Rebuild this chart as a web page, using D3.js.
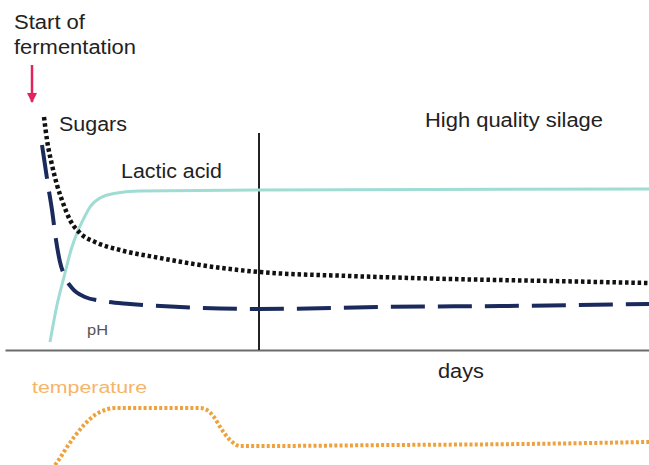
<!DOCTYPE html>
<html><head><meta charset="utf-8">
<script src="https://cdn.jsdelivr.net/npm/d3@7/dist/d3.min.js"></script>
<style>html,body{margin:0;padding:0;background:#fff;}svg{display:block;font-family:"Liberation Sans",Arial,sans-serif;}</style>
</head><body>
<script>
// time in relative units (no ticks on the axis), levels in relative units 0-100
const sugarsT = [0.8,1.4,2.4,3.4,4.6,6,8,11,16,24,32,43.8,62,82,102,121.8];
const sugarsV = [93.2,84,74,66,58.8,52,46.8,43.2,40,36.8,34,31.2,29.6,28.4,27.6,26.8];
const phT = [0.4,1,1.6,2.4,3.2,4,5,6.4,9,12.4,18,28,43.8,68,92,121.8];
const phV = [82,74,66,56,44,35.2,29.2,24.8,21.2,19.6,18.4,17.2,16.4,17.2,17.6,18.4];
const lacticT = [2,3.4,5,6.2,7.4,8.8,10,12,15.4,20,43.8,121.8];
const lacticV = [3.2,18,30.8,40,46.8,52.8,57.2,60.8,62.8,63.6,64,64.4];
const tempT = [3,4,5.4,7,9,11,13,15,32,33.4,34.8,36.4,38,40,44,72,96,121.8];
const tempV = [3.3,8,15.3,22.7,30.7,36.7,40,41.3,41.3,40,35.3,26.7,20,16,16,16.7,17.3,18.7];
const phaseBoundaryT = 43.8;
const phaseBoundaryTop = 86.8;

const W = 649, H = 465;
const svg = d3.select("body").append("svg").attr("width", W).attr("height", H);

const x = d3.scaleLinear().domain([-7, 122]).range([5, 650]);
const y = d3.scaleLinear().domain([0, 100]).range([350, 100]);
const yT = d3.scaleLinear().domain([0, 50]).range([470, 395]);

const zip = (a, b) => a.map((t, i) => [t, b[i]]);
const lineTop = d3.line().x(d => x(d[0])).y(d => y(d[1])).curve(d3.curveMonotoneX);
const lineTemp = d3.line().x(d => x(d[0])).y(d => yT(d[1])).curve(d3.curveMonotoneX);

// x axis (no ticks)
const ax = svg.append("g").attr("transform", `translate(0,${y(0)})`)
  .call(d3.axisBottom(x).tickValues([]).tickSizeOuter(0));
ax.select(".domain").attr("stroke", "#6b6b6b").attr("stroke-width", 2);

// phase boundary
svg.append("line")
  .attr("x1", x(phaseBoundaryT)).attr("x2", x(phaseBoundaryT))
  .attr("y1", y(phaseBoundaryTop)).attr("y2", y(0))
  .attr("stroke", "#222").attr("stroke-width", 2);

// lactic acid
svg.append("path").datum(zip(lacticT, lacticV)).attr("d", lineTop)
  .attr("fill", "none").attr("stroke", "#9fdcd3").attr("stroke-width", 3);

// sugars
svg.append("path").datum(zip(sugarsT, sugarsV)).attr("d", lineTop)
  .attr("fill", "none").attr("stroke", "#111").attr("stroke-width", 4.5)
  .attr("stroke-dasharray", "3.5,2.8");

// pH
svg.append("path").datum(zip(phT, phV)).attr("d", lineTop)
  .attr("fill", "none").attr("stroke", "#1b2a5c").attr("stroke-width", 4)
  .attr("stroke-dasharray", "34,13");

// temperature
svg.append("path").datum(zip(tempT, tempV)).attr("d", lineTemp)
  .attr("fill", "none").attr("stroke", "#eda23f").attr("stroke-width", 4)
  .attr("stroke-dasharray", "3,2.2");

// arrow
const defs = svg.append("defs");
defs.append("marker").attr("id", "ah").attr("viewBox", "0 0 10 10")
  .attr("refX", 9).attr("refY", 5).attr("markerWidth", 4).attr("markerHeight", 4)
  .attr("orient", "auto").attr("markerUnits", "strokeWidth")
  .append("path").attr("d", "M0,0L10,5L0,10z").attr("fill", "#e3245c");
svg.append("line").attr("x1", 32).attr("x2", 32).attr("y1", 65).attr("y2", 102)
  .attr("stroke", "#e3245c").attr("stroke-width", 2.5).attr("marker-end", "url(#ah)");

// labels
const txt = (s, xx, yy, size, fill, len) => {
  const t = svg.append("text").attr("x", xx).attr("y", yy).attr("font-size", size)
    .attr("fill", fill).text(s);
  if (len) t.attr("textLength", len).attr("lengthAdjust", "spacingAndGlyphs");
  return t;
};
txt("Start of", 14, 29, 19.5, "#222", 71);
txt("fermentation", 14, 54, 19.5, "#222", 122);
txt("Sugars", 59, 131, 19.5, "#222", 68);
txt("Lactic acid", 121, 178, 19.5, "#222", 101);
txt("High quality silage", 425, 127, 19.5, "#222", 178);
txt("pH", 87, 335, 14, "#555", 21);
txt("days", 438, 378, 19.5, "#222", 46);
txt("temperature", 32, 393, 16, "#f6b469", 115);
</script>
</body></html>
